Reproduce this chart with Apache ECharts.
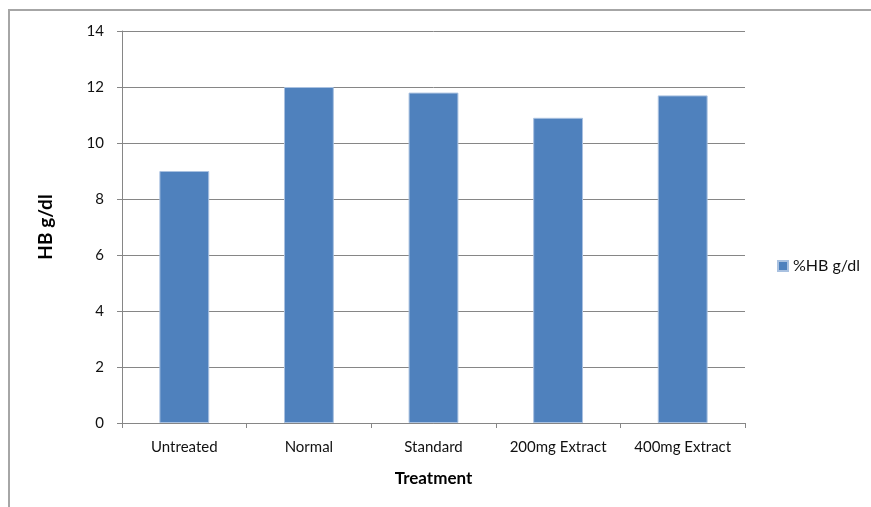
<!DOCTYPE html>
<html>
<head>
<meta charset="utf-8">
<script src="https://cdn.jsdelivr.net/npm/echarts@6/dist/echarts.min.js"></script>
<style>
  html, body { margin: 0; padding: 0; background: #fff; }
  #chart { width: 871px; height: 507px; }
</style>
</head>
<body>
<div id="chart"></div>
<script>
// Haemoglobin level per treatment group
const categories = ['Untreated', 'Normal', 'Standard', '200mg Extract', '400mg Extract'];
const hbValues = [9.0, 12.0, 11.8, 10.9, 11.7];
const seriesName = '%HB g/dl';

const FONT = 'Lato, "Open Sans", sans-serif';
const chart = echarts.init(document.getElementById('chart'));

chart.setOption({
  animation: false,
  backgroundColor: '#fff',
  graphic: [
    {
      type: 'polyline',
      shape: { points: [[9, 507], [9, 10], [871, 10]] },
      style: { stroke: '#a6a6a6', lineWidth: 2, fill: null },
      silent: true
    }
  ],
  grid: { left: 122, right: 126, top: 31, bottom: 84 },
  legend: {
    data: [seriesName],
    left: 772,
    top: 253,
    orient: 'vertical',
    itemWidth: 10,
    itemHeight: 10,
    itemGap: 5,
    textStyle: { fontFamily: FONT, fontSize: 16, color: '#111' },
    icon: 'rect'
  },
  xAxis: {
    type: 'category',
    data: categories,
    name: 'Treatment',
    nameLocation: 'middle',
    nameGap: 47,
    nameTextStyle: { fontFamily: FONT, fontSize: 17, fontWeight: 'bold', color: '#000' },
    axisLine: { lineStyle: { color: '#868686', width: 1 } },
    axisTick: { show: true, length: 5, lineStyle: { color: '#868686' } },
    axisLabel: { fontFamily: FONT, fontSize: 15, color: '#111', margin: 17, interval: 0 }
  },
  yAxis: {
    type: 'value',
    min: 0,
    max: 14,
    interval: 2,
    name: 'HB g/dl',
    nameLocation: 'middle',
    nameGap: 67,
    nameRotate: 90,
    nameTextStyle: { fontFamily: FONT, fontSize: 19, fontWeight: 'bold', color: '#000' },
    axisLine: { show: true, lineStyle: { color: '#868686', width: 1 } },
    axisTick: { show: true, length: 5, lineStyle: { color: '#868686' } },
    axisLabel: { fontFamily: FONT, fontSize: 15, color: '#111', margin: 18 },
    splitLine: { lineStyle: { color: '#868686', width: 1 } }
  },
  series: [
    {
      name: seriesName,
      type: 'bar',
      data: hbValues,
      barWidth: '40%',
      itemStyle: { color: '#4f81bd', borderColor: '#a9c1e0', borderWidth: 1 }
    }
  ]
});
</script>
</body>
</html>
